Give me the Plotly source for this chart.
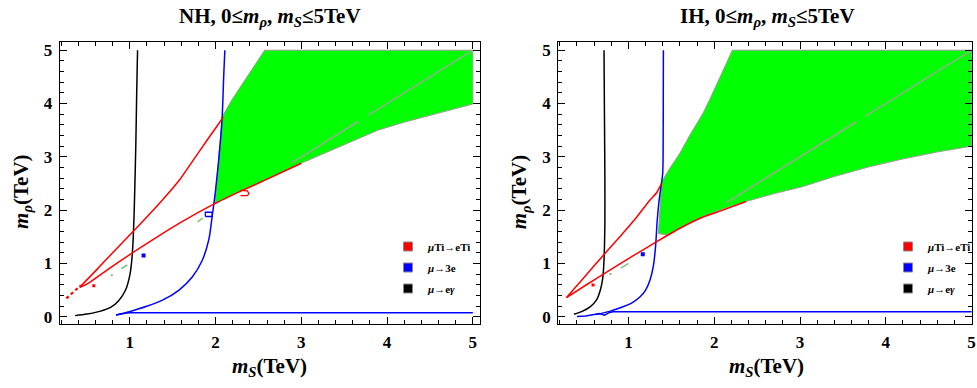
import plotly.graph_objects as go

# ---------------- data: NH panel ----------------
nh_green_x = [1.99, 2.01, 2.05, 2.077, 2.19, 2.3, 2.406, 2.49, 2.572, 5.0, 5.0, 4.6, 4.2, 3.894, 3.5, 3.0, 2.7, 2.46, 2.2, 1.99]
nh_green_y = [2.11, 2.5, 3.3, 3.75, 4.07, 4.33, 4.6, 4.8, 5.0, 5.0, 3.99, 3.82, 3.65, 3.5, 3.23, 2.88, 2.65, 2.47, 2.29, 2.11]
nh_diag_x = [2.89, 3.66, None, 3.78, 5.0]
nh_diag_y = [2.89, 3.66, None, 3.78, 5.0]
nh_gdash_x = [0.9, 0.97, None, 1.79, 1.85]
nh_gdash_y = [0.9, 0.97, None, 1.78, 1.85]
nh_gdot_x = [0.79]
nh_gdot_y = [0.78]
nh_black_x = [0.36, 0.5, 0.65, 0.78, 0.87, 0.95, 1.0, 1.025, 1.04, 1.052, 1.07, 1.08, 1.09]
nh_black_y = [0.02, 0.05, 0.10, 0.18, 0.30, 0.50, 0.78, 1.1, 1.5, 2.05, 3.25, 4.2, 5.0]
nh_blue_x = [0.84, 0.994, 1.188, 1.38, 1.574, 1.73, 1.845, 1.92, 1.96, 2.0, 2.058, 2.077, 2.096, 2.108]
nh_blue_y = [0.03, 0.094, 0.19, 0.31, 0.50, 0.75, 1.06, 1.44, 1.88, 2.38, 3.32, 3.75, 4.57, 5.0]
nh_blueh_x = [0.84, 0.92, 1.0, 5.0]
nh_blueh_y = [0.03, 0.06, 0.075, 0.075]
nh_bluebox_x = [1.88, 1.96, 1.96, 1.88, 1.88]
nh_bluebox_y = [1.88, 1.88, 1.96, 1.96, 1.88]
nh_bluedot_x = [1.16]
nh_bluedot_y = [1.15]
nh_red_up_x = [0.415, 0.6, 0.8, 1.11, 1.38, 1.576, 1.75, 1.9, 2.04, 2.09]
nh_red_up_y = [0.55, 0.86, 1.2, 1.72, 2.19, 2.56, 2.96, 3.31, 3.63, 3.75]
nh_red_lo_x = [0.415, 0.5, 0.8, 1.11, 1.574, 2.0, 2.3, 2.6, 3.0]
nh_red_lo_y = [0.55, 0.61, 0.95, 1.28, 1.75, 2.13, 2.36, 2.58, 2.88]
nh_reddash_x = [0.26, 0.43]
nh_reddash_y = [0.345, 0.59]
nh_redloop_x = [2.29, 2.37, 2.39, 2.37, 2.29]
nh_redloop_y = [2.37, 2.36, 2.31, 2.27, 2.27]
nh_reddot_x = [0.58]
nh_reddot_y = [0.58]

# ---------------- data: IH panel ----------------
ih_green_x = [1.349, 1.387, 1.48, 1.6, 1.72, 1.87, 1.96, 2.063, 2.14, 2.21, 5.0, 5.0, 4.6, 4.2, 3.8, 3.4, 3.03, 2.7, 2.37, 2.1, 1.87, 1.65, 1.465, 1.349]
ih_green_y = [1.56, 2.53, 2.78, 3.07, 3.42, 3.82, 4.12, 4.5, 4.75, 5.0, 5.0, 3.2, 3.09, 2.96, 2.81, 2.63, 2.44, 2.31, 2.16, 2.02, 1.88, 1.7, 1.53, 1.56]
ih_diag_x = [2.14, 3.66, None, 3.76, 5.0]
ih_diag_y = [2.14, 3.66, None, 3.76, 5.0]
ih_gdash_x = [0.91, 1.0]
ih_gdash_y = [0.91, 1.0]
ih_gdot_x = [0.79]
ih_gdot_y = [0.8]
ih_black_x = [0.364, 0.46, 0.556, 0.63, 0.672, 0.70, 0.711, 0.72, 0.725, 0.725, 0.72, 0.715]
ih_black_y = [0.045, 0.10, 0.19, 0.32, 0.5, 0.72, 0.94, 1.3, 1.8, 2.6, 3.8, 5.0]
ih_blue_x = [0.62, 0.78, 0.943, 1.05, 1.136, 1.2, 1.251, 1.29, 1.315, 1.335, 1.355, 1.38, 1.399, 1.405, 1.407]
ih_blue_y = [0.04, 0.10, 0.19, 0.27, 0.375, 0.5, 0.69, 0.95, 1.3, 1.8, 2.15, 2.45, 2.69, 3.5, 5.0]
ih_blueh_x = [0.40, 0.5, 0.6, 0.66, 0.72, 0.78, 0.82, 5.0]
ih_blueh_y = [0.005, 0.015, 0.04, 0.06, 0.03, 0.08, 0.094, 0.094]
ih_bluedot_x = [1.167]
ih_bluedot_y = [1.17]
ih_red_up_x = [0.278, 0.5, 0.7, 0.9, 1.097, 1.251, 1.33, 1.387]
ih_red_up_y = [0.36, 0.77, 1.14, 1.5, 1.87, 2.19, 2.33, 2.5]
ih_red_lo_x = [0.278, 0.5, 0.75, 1.0, 1.33, 1.6, 1.87, 2.1, 2.37]
ih_red_lo_y = [0.36, 0.59, 0.84, 1.09, 1.41, 1.66, 1.87, 2.0, 2.16]
ih_reddot_x = [0.587]
ih_reddot_y = [0.595]

# ---------------- labels ----------------
titles = ["NH, 0≤<i>m</i><sub><i>ρ</i></sub>, <i>m</i><sub><i>S</i></sub>≤5TeV",
          "IH, 0≤<i>m</i><sub><i>ρ</i></sub>, <i>m</i><sub><i>S</i></sub>≤5TeV"]
xlabel = "<i>m</i><sub><i>S</i></sub>(TeV)"
ylabel = "<i>m</i><sub><i>ρ</i></sub>(TeV)"
legend_names = ["<i>μ</i>Ti→eTi", "<i>μ</i>→3e", "<i>μ</i>→e<i>γ</i>"]
legend_colors = ["#ff0000", "#0000ff", "#000000"]

FONT = "Liberation Serif"
GREEN = "#00ff00"
EDGE = "#a09a9a"
DIAG = "#b49cb0"
GDASH = "#7fbf7f"
LW = 1.5

fig = go.Figure()


def add_line(x, y, color, xa, ya, width=LW, dash="solid", shape="linear", smoothing=0.8):
    fig.add_trace(go.Scatter(x=x, y=y, mode="lines",
                             line=dict(color=color, width=width, dash=dash, shape=shape, smoothing=smoothing),
                             xaxis=xa, yaxis=ya, showlegend=False, hoverinfo="skip"))


def add_dot(x, y, color, xa, ya, size=4):
    fig.add_trace(go.Scatter(x=x, y=y, mode="markers", marker=dict(color=color, size=size, symbol="square"),
                             xaxis=xa, yaxis=ya, showlegend=False, hoverinfo="skip"))


panels = [
    dict(xa="x", ya="y", green=(nh_green_x, nh_green_y), diag=(nh_diag_x, nh_diag_y),
         gdash=(nh_gdash_x, nh_gdash_y), gdot=(nh_gdot_x, nh_gdot_y),
         black=(nh_black_x, nh_black_y), blue=(nh_blue_x, nh_blue_y), blueh=(nh_blueh_x, nh_blueh_y),
         bluedot=(nh_bluedot_x, nh_bluedot_y), red_up=(nh_red_up_x, nh_red_up_y),
         red_lo=(nh_red_lo_x, nh_red_lo_y), reddot=(nh_reddot_x, nh_reddot_y)),
    dict(xa="x2", ya="y2", green=(ih_green_x, ih_green_y), diag=(ih_diag_x, ih_diag_y),
         gdash=(ih_gdash_x, ih_gdash_y), gdot=(ih_gdot_x, ih_gdot_y),
         black=(ih_black_x, ih_black_y), blue=(ih_blue_x, ih_blue_y), blueh=(ih_blueh_x, ih_blueh_y),
         bluedot=(ih_bluedot_x, ih_bluedot_y), red_up=(ih_red_up_x, ih_red_up_y),
         red_lo=(ih_red_lo_x, ih_red_lo_y), reddot=(ih_reddot_x, ih_reddot_y)),
]

for i, p in enumerate(panels):
    xa, ya = p["xa"], p["ya"]
    fig.add_trace(go.Scatter(x=p["green"][0], y=p["green"][1], mode="lines", fill="toself",
                             fillcolor=GREEN, line=dict(color=EDGE, width=1), xaxis=xa, yaxis=ya,
                             showlegend=False, hoverinfo="skip"))
    add_line(*p["diag"], DIAG, xa, ya, width=1.2)
    add_line(*p["gdash"], GDASH, xa, ya, width=1.5)
    add_dot(*p["gdot"], GDASH, xa, ya, size=2)
    add_line(*p["black"], "#000000", xa, ya, shape="spline")
    add_line(*p["blueh"], "#0000ff", xa, ya)
    add_line(*p["blue"], "#0000ff", xa, ya, shape="spline")
    add_dot(*p["bluedot"], "#0000ff", xa, ya, size=4)
    add_line(*p["red_up"], "#ff0000", xa, ya, shape="spline", smoothing=0.6)
    add_line(*p["red_lo"], "#ff0000", xa, ya, shape="spline", smoothing=0.6)
    add_dot(*p["reddot"], "#ff0000", xa, ya, size=3)
    if i == 0:
        add_line(nh_reddash_x, nh_reddash_y, "#ff0000", xa, ya, width=2.2, dash="dot")
        add_line(nh_redloop_x, nh_redloop_y, "#ff0000", xa, ya, width=1.3)
        add_line(nh_bluebox_x, nh_bluebox_y, "#0000ff", xa, ya, width=1.3)
    # legend entries
    lg = "legend" if i == 0 else "legend2"
    for k, (name, col) in enumerate(zip(legend_names, legend_colors)):
        fig.add_trace(go.Scatter(x=[None], y=[None], mode="markers", name=name,
                                 marker=dict(symbol="square", size=9, color=col,
                                             line=dict(color="#8a8a8a", width=1)),
                                 xaxis=xa, yaxis=ya, legend=lg, legendgroup=f"{lg}{k}", showlegend=True))

W, H = 977, 388
axis_common = dict(
    showgrid=False, zeroline=False, showline=True, linecolor="black", linewidth=1, mirror="ticks",
    ticks="inside", ticklen=7, tickwidth=1, tickcolor="black", tick0=0, dtick=1,
    minor=dict(ticks="inside", ticklen=4, tickwidth=1, tickcolor="black", dtick=0.2, tick0=0, showgrid=False),
    tickfont=dict(family=FONT, size=17, color="black", weight="bold"),
    ticklabelstandoff=3, ticklabeloverflow="allow", automargin=False, fixedrange=True,
)
ydom = [1 - 324 / H, 1 - 42 / H]
xd1 = [60 / W, 482.7 / W]
xd2 = [561 / W, 1.0]

fig.update_layout(
    width=W, height=H, template="none",
    margin=dict(l=0, r=0, t=0, b=0),
    paper_bgcolor="white", plot_bgcolor="white",
    xaxis=dict(domain=xd1, range=[0.182, 5.086], anchor="y", **axis_common),
    yaxis=dict(domain=ydom, range=[-0.137, 5.154], anchor="x", **axis_common),
    xaxis2=dict(domain=xd2, range=[0.18, 5.005], anchor="y2", **axis_common),
    yaxis2=dict(domain=ydom, range=[-0.137, 5.154], anchor="x2", **axis_common),
    legend=dict(x=390 / W, y=1 - 232 / H, xanchor="left", yanchor="top", bgcolor="rgba(0,0,0,0)",
                font=dict(family=FONT, size=11, color="black", weight="bold"), tracegroupgap=2,
                itemsizing="trace"),
    legend2=dict(x=893 / W, y=1 - 232 / H, xanchor="left", yanchor="top", bgcolor="rgba(0,0,0,0)",
                 font=dict(family=FONT, size=11, color="black", weight="bold"), tracegroupgap=2,
                 itemsizing="trace"),
    showlegend=True,
)

ann = []
for i, (cx_title, cx_x, cx_y) in enumerate([(271, 271, 22), (771, 770, 523)]):
    ann.append(dict(text=f"<b>{titles[i]}</b>", x=cx_title / W, y=1 - 17 / H, xref="paper", yref="paper",
                    xanchor="center", yanchor="middle", showarrow=False,
                    font=dict(family=FONT, size=21, color="black")))
    ann.append(dict(text=f"<b>{xlabel}</b>", x=cx_x / W, y=1 - 367 / H, xref="paper", yref="paper",
                    xanchor="center", yanchor="middle", showarrow=False,
                    font=dict(family=FONT, size=21, color="black")))
    ann.append(dict(text=f"<b>{ylabel}</b>", x=cx_y / W, y=1 - 192 / H, xref="paper", yref="paper",
                    xanchor="center", yanchor="middle", showarrow=False, textangle=-90,
                    font=dict(family=FONT, size=21, color="black")))
fig.update_layout(annotations=ann)

fig.write_html("out.html")
